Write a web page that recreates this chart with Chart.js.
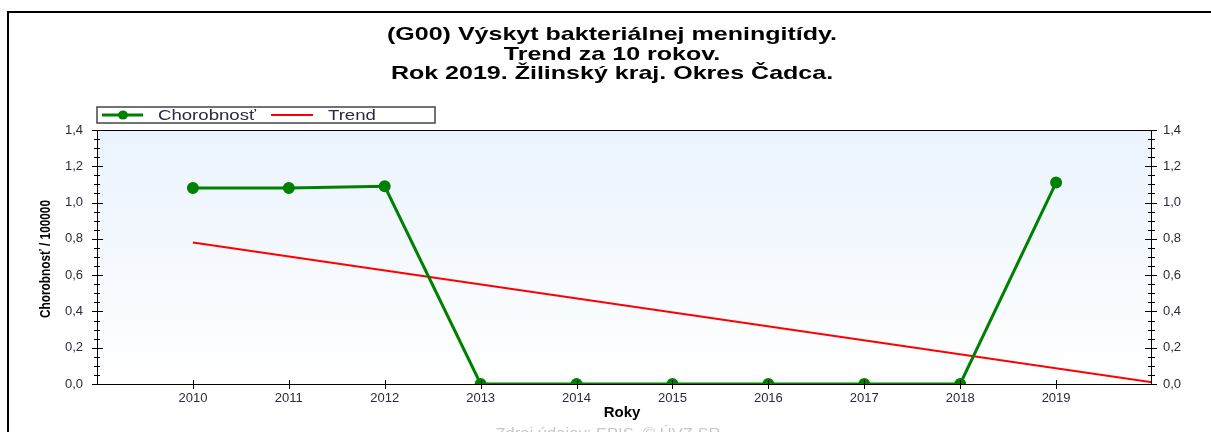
<!DOCTYPE html>
<html>
<head>
<meta charset="utf-8">
<script src="https://cdn.jsdelivr.net/npm/chart.js@4/dist/chart.umd.min.js"></script>
<style>
  body { margin: 0; background: #fff; }
  #wrap { position: relative; width: 1211px; height: 432px; }
</style>
</head>
<body>
<div id="wrap"><canvas id="lineChart" width="1211" height="432"></canvas></div>
<script>
// data
var titleLines = ["(G00) Výskyt bakteriálnej meningitídy.", "Trend za 10 rokov.", "Rok 2019. Žilinský kraj. Okres Čadca."];
var years = [2010, 2011, 2012, 2013, 2014, 2015, 2016, 2017, 2018, 2019];
var chorobnost = [1.08, 1.08, 1.09, 0, 0, 0, 0, 0, 0, 1.11];
var trendYears = [2010, 2020];
var trendValues = [0.78, 0.01];
var seriesLabels = ["Chorobnosť", "Trend"];
var seriesColors = ["#008000", "#ff0000"];
var yTitle = "Chorobnosť / 100000";
var xTitle = "Roky";
var sourceText = "Zdroj údajov: EPIS, © ÚVZ SR";

var FONT = "Arial, 'Liberation Sans', sans-serif";

function fmt(v) {
  return (Math.round(v * 10) / 10).toFixed(1).replace('.', ',');
}

// text drawn wider, like the old GDI output
function wideText(c, text, x, y, sx, align) {
  var w = c.measureText(text).width * sx;
  var x0 = align === 'center' ? x - w / 2 : x;
  c.save();
  c.translate(x0, y);
  c.scale(sx, 1);
  c.textAlign = 'left';
  c.fillText(text, 0, 0);
  c.restore();
}

var decor = {
  id: 'decor',
  beforeDraw: function(chart) {
    var c = chart.ctx, a = chart.chartArea;
    var g = c.createLinearGradient(0, a.top, 0, a.bottom);
    g.addColorStop(0, '#eaf3fd');
    g.addColorStop(1, '#ffffff');
    c.save();
    c.fillStyle = g;
    c.fillRect(a.left, a.top, a.right - a.left, a.bottom - a.top);
    c.restore();
  },
  afterDraw: function(chart) {
    var c = chart.ctx, a = chart.chartArea;
    var x = chart.scales.x, y = chart.scales.y;
    c.save();
    // outer frame
    c.strokeStyle = '#000';
    c.lineWidth = 2;
    c.beginPath();
    c.moveTo(8, 432); c.lineTo(8, 12); c.lineTo(1211, 12);
    c.stroke();

    // title
    c.fillStyle = '#000';
    c.font = 'bold 19px ' + FONT;
    c.textBaseline = 'alphabetic';
    var sx = 450 / c.measureText(titleLines[0]).width;
    titleLines.forEach(function(t, i) {
      wideText(c, t, 612, 40 + i * 19.5, sx, 'center');
    });

    // plot border
    c.strokeStyle = '#000';
    c.lineWidth = 1;
    c.strokeRect(a.left + 0.5, a.top + 0.5, a.right - a.left - 1, a.bottom - a.top);

    // y ticks both sides
    c.beginPath();
    for (var k = 0; k <= 28; k++) {
      var py = Math.round(y.getPixelForValue(k * 0.05)) + 0.5;
      var major = k % 4 === 0;
      var l = major ? 5 : 3, r = major ? 6 : 3;
      c.moveTo(a.left - l, py); c.lineTo(a.left + r, py);
      c.moveTo(a.right - r - 1, py); c.lineTo(a.right + l, py);
    }
    // x ticks
    years.forEach(function(yr) {
      var px = Math.round(x.getPixelForValue(yr)) + 0.5;
      c.moveTo(px, a.bottom - 4); c.lineTo(px, a.bottom + 5);
    });
    c.stroke();

    // legend
    var lx = 97, ly = 107, lw = 338, lh = 16, cy = ly + lh / 2;
    c.strokeStyle = '#444';
    c.lineWidth = 1.5;
    c.strokeRect(lx, ly, lw, lh);
    c.lineWidth = 3;
    c.strokeStyle = seriesColors[0];
    c.beginPath(); c.moveTo(102, cy); c.lineTo(143, cy); c.stroke();
    c.fillStyle = seriesColors[0];
    c.beginPath(); c.ellipse(123, cy, 5, 4.5, 0, 0, Math.PI * 2); c.fill();
    c.lineWidth = 2;
    c.strokeStyle = seriesColors[1];
    c.beginPath(); c.moveTo(271, cy); c.lineTo(313, cy); c.stroke();
    c.fillStyle = '#2a2a40';
    c.font = '15px ' + FONT;
    c.textBaseline = 'middle';
    wideText(c, seriesLabels[0], 158, cy + 1, 1.24, 'left');
    wideText(c, seriesLabels[1], 328, cy + 1, 1.24, 'left');

    // axis titles
    c.fillStyle = '#000';
    c.font = 'bold 15px ' + FONT;
    c.textBaseline = 'middle';
    c.textAlign = 'center';
    c.fillText(xTitle, 622, 413);

    c.save();
    c.font = "bold 15px 'Liberation Sans Narrow', Arial, sans-serif";
    var tw = c.measureText(yTitle).width;
    c.translate(46, 259);
    c.rotate(-Math.PI / 2);
    c.scale(118 / tw, 1);
    c.textAlign = 'center';
    c.textBaseline = 'middle';
    c.fillText(yTitle, 0, 0);
    c.restore();

    // source
    c.fillStyle = '#c8c8c8';
    c.font = '14px ' + FONT;
    c.textBaseline = 'top';
    var sw = c.measureText(sourceText).width;
    wideText(c, sourceText, 608, 427, 225 / sw, 'center');
    c.restore();
  }
};

var ctxL = document.getElementById("lineChart").getContext('2d');
var myLineChart = new Chart(ctxL, {
  type: 'line',
  data: {
    datasets: [{
      label: seriesLabels[0],
      data: years.map(function(yr, i) { return { x: yr, y: chorobnost[i] }; }),
      borderColor: seriesColors[0],
      backgroundColor: seriesColors[0],
      borderWidth: 3,
      pointRadius: 4.5,
      pointHoverRadius: 4.5,
      tension: 0,
      clip: 0
    }, {
      label: seriesLabels[1],
      data: trendYears.map(function(yr, i) { return { x: yr, y: trendValues[i] }; }),
      borderColor: seriesColors[1],
      borderWidth: 2,
      pointRadius: 0,
      tension: 0,
      clip: 0
    }]
  },
  options: {
    responsive: false,
    animation: false,
    events: [],
    layout: { padding: { top: 130, left: 0, right: 0, bottom: 0 } },
    plugins: { legend: { display: false }, title: { display: false }, tooltip: { enabled: false } },
    scales: {
      x: {
        type: 'linear',
        min: 2009, max: 2020,
        afterFit: function(s) { s.height = 48; },
        grid: { display: false, drawTicks: false },
        border: { display: false },
        ticks: {
          stepSize: 1, padding: 7, autoSkip: false, maxRotation: 0,
          color: '#2a2a40', font: { family: FONT, size: 13 },
          callback: function(v) { return (v > 2009 && v < 2020) ? String(v) : ''; }
        }
      },
      y: {
        position: 'left',
        min: 0, max: 1.4,
        afterFit: function(s) { s.width = 97; },
        grid: { display: false, drawTicks: false },
        border: { display: false },
        ticks: {
          stepSize: 0.2, padding: 14, color: '#2a2a40', font: { family: FONT, size: 13 },
          callback: function(v) { return fmt(v); }
        }
      },
      y2: {
        position: 'right',
        min: 0, max: 1.4,
        afterFit: function(s) { s.width = 59; },
        grid: { display: false, drawTicks: false },
        border: { display: false },
        ticks: {
          stepSize: 0.2, padding: 11, color: '#2a2a40', font: { family: FONT, size: 13 },
          callback: function(v) { return fmt(v); }
        }
      }
    }
  },
  plugins: [decor]
});
</script>
</body>
</html>
